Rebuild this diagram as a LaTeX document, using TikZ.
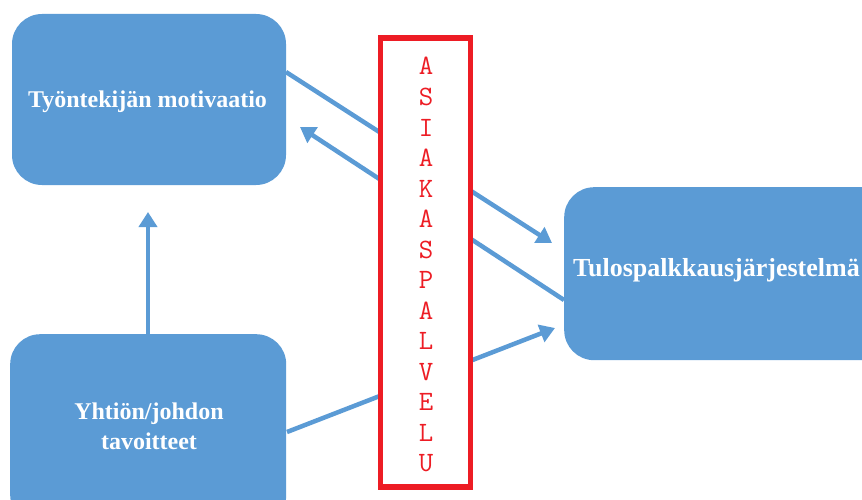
\documentclass[tikz,border=0pt]{standalone}
\usepackage{fontspec}
\setmainfont{Liberation Serif}
\usetikzlibrary{arrows.meta}
\definecolor{boxblue}{HTML}{5B9BD5}
\definecolor{framered}{HTML}{ED1C24}

\begin{document}
\begin{tikzpicture}[x=1pt,y=-1pt,
  bluebox/.style={fill=boxblue, rounded corners=30pt, inner sep=0pt},
  boxtext/.style={text=white, font=\bfseries\fontsize{24}{30}\selectfont, align=center, inner sep=0pt},
  flow/.style={draw=boxblue, line width=4.5pt, -{Triangle[width=18pt,length=15pt]}},
  letter/.style={text=framered, font=\ttfamily\fontsize{28}{30}\selectfont, anchor=base, inner sep=0pt},
]
\useasboundingbox (0,0) rectangle (862,500);
\clip (0,0) rectangle (862,500);

% three blue blocks
\node[bluebox, minimum width=274pt, minimum height=171pt] (mot) at (149,99.5) {};
\node[boxtext, anchor=base] (motT) at (147.5,108) {Työntekijän motivaatio};

\node[bluebox, minimum width=276pt, minimum height=191pt, anchor=north west] (tav) at (10,334) {};
\node[boxtext] (tavT) at (149,426) {Yhtiön/johdon\\tavoitteet};

\node[bluebox, minimum width=340pt, minimum height=173pt, anchor=north west] (tulos) at (564,187) {};
\node[boxtext, anchor=base west, font=\bfseries\fontsize{26}{30}\selectfont] (tulosT) at (573,276) {Tulospalkkausjärjestelmä};

% connector end points
\coordinate (m1) at (286,72);
\coordinate (t1) at (552,243);
\coordinate (t2) at (564,300);
\coordinate (m2) at (300,127);
\coordinate (y1) at (287,432);
\coordinate (t3) at (555,328);
\coordinate (m3) at (148,212);

\draw[flow] (m1) -- (t1);
\draw[flow] (t2) -- (m2);
\draw[flow] (y1) -- (t3);
\draw[flow] (tav.north -| m3) -- (m3);

% customer service frame in front of the connectors
\node[draw=framered, line width=5.5pt, fill=white, minimum width=90pt, minimum height=449pt, inner sep=0pt] (frame) at (425.5,262.5) {};
\foreach \ch [count=\i from 0] in {A,S,I,A,K,A,S,P,A,L,V,E,L,U}
  \node[letter] (ch\i) at (426,75+30.5*\i) {\ch};
\end{tikzpicture}
\end{document}
